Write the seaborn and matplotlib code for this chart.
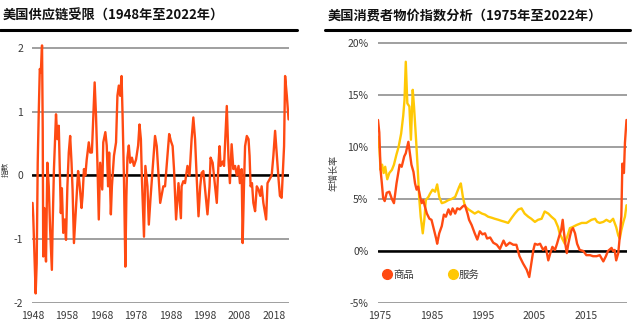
import matplotlib
matplotlib.use('Agg')
import matplotlib.pyplot as plt
import seaborn as sns
import pandas as pd
from matplotlib.lines import Line2D

# ---------------- data ----------------
supply_years = [1948.0, 1948.2, 1948.9, 1949.2, 1949.5, 1949.8, 1950.1, 1950.4, 1950.75, 1950.95,
                1951.1, 1951.4, 1951.6, 1951.9, 1952.3, 1952.7, 1953.1, 1953.6, 1953.8, 1954.2,
                1954.8, 1955.2, 1955.6, 1955.9, 1956.2, 1956.5, 1956.9, 1957.3, 1957.7, 1958.1,
                1958.5, 1958.9, 1959.3, 1959.6, 1960.0, 1960.4, 1960.8, 1961.2, 1961.6, 1962.2,
                1962.5, 1962.9, 1963.3, 1963.7, 1964.3, 1964.7, 1965.2, 1965.6, 1966.0, 1966.4,
                1966.8, 1967.2, 1967.6, 1968.2, 1968.5, 1969.1, 1969.5, 1969.9, 1970.2, 1970.7,
                1971.0, 1971.6, 1972.2, 1972.6, 1973.0, 1973.4, 1973.8, 1974.1, 1974.5, 1974.9,
                1975.2, 1975.5, 1975.9, 1976.3, 1976.8, 1977.4, 1978.0, 1978.6, 1979.0, 1979.4,
                1979.7, 1980.3, 1980.7, 1981.3, 1981.7, 1982.2, 1983.5, 1984.0, 1985.0, 1985.9,
                1986.4, 1987.6, 1988.1, 1988.6, 1989.0, 1989.6, 1990.3, 1991.0, 1991.2, 1991.7,
                1992.2, 1992.9, 1993.5, 1994.1, 1994.6, 1995.1, 1995.6, 1996.1, 1996.6, 1997.0,
                1997.5, 1998.0, 1998.7, 1999.3, 1999.6, 2000.2, 2000.9, 2001.4, 2001.9, 2002.2,
                2002.5, 2003.1, 2003.5, 2004.3, 2004.8, 2005.2, 2005.7, 2006.2, 2006.7, 2007.2,
                2007.7, 2008.1, 2008.6, 2008.9, 2009.3, 2009.6, 2010.1, 2010.6, 2010.9, 2011.2,
                2011.6, 2012.0, 2012.5, 2013.0, 2013.5, 2014.0, 2014.4, 2014.9, 2015.7, 2016.1,
                2016.7, 2017.3, 2017.8, 2018.3, 2018.8, 2019.3, 2019.7, 2020.2, 2020.5, 2020.9,
                2021.2, 2021.7, 2022.2]
supply_index = [-0.43, -0.64, -1.85, -1.38, 0.20, 0.99, 1.67, 1.62, 2.04, 0.73,
                -1.27, -0.51, -0.96, -1.35, 0.20, -0.17, -0.85, -1.48, -0.85, 0.10,
                0.96, 0.57, 0.78, 0.10, -0.59, -0.20, -0.90, -0.69, -1.01, -0.17,
                0.36, 0.62, 0.20, -0.22, -1.06, -0.69, -0.32, 0.07, -0.12, -0.51,
                -0.32, 0.10, 0.00, 0.25, 0.52, 0.36, 0.36, 0.93, 1.46, 0.93,
                0.20, -0.69, 0.20, -0.22, 0.52, 0.68, 0.47, -0.17, 0.36, -0.61,
                -0.17, 0.31, 0.52, 1.25, 1.41, 1.25, 1.56, 0.93, -0.06, -1.43,
                -0.32, 0.28, 0.47, 0.20, 0.28, 0.15, 0.25, 0.47, 0.80, 0.57,
                -0.06, -0.96, 0.15, -0.17, -0.77, -0.35, 0.62, 0.46, -0.43, -0.17,
                -0.17, 0.65, 0.54, 0.46, 0.10, -0.69, -0.12, -0.67, -0.17, -0.09,
                -0.12, 0.15, 0.00, 0.57, 0.91, 0.57, -0.06, -0.64, -0.17, 0.04,
                0.07, -0.22, -0.61, -0.17, 0.28, 0.20, -0.17, -0.43, 0.20, 0.46,
                0.15, 0.22, 0.15, 1.09, 0.25, -0.12, 0.49, 0.10, 0.15, 0.00,
                0.15, -0.12, 0.10, -1.06, -0.12, 0.46, 0.62, 0.57, 0.31, -0.17,
                -0.12, -0.43, -0.56, -0.17, -0.22, -0.32, -0.17, -0.43, -0.69, -0.12,
                -0.06, 0.00, 0.31, 0.70, 0.31, -0.06, -0.32, -0.35, 0.00, 0.46,
                1.56, 1.25, 0.88]

goods_years = [1974.6, 1974.85, 1975.1, 1975.35, 1975.6, 1975.9, 1976.3, 1976.8, 1977.3, 1977.7,
               1978.2, 1978.8, 1979.2, 1979.7, 1980.0, 1980.5, 1980.8, 1981.1, 1981.5, 1981.8,
               1982.1, 1982.4, 1982.8, 1983.1, 1983.4, 1983.7, 1984.1, 1984.6, 1985.0, 1985.5,
               1985.9, 1986.1, 1986.5, 1987.0, 1987.4, 1987.8, 1988.3, 1988.7, 1989.1, 1989.6,
               1990.0, 1990.5, 1991.1, 1991.5, 1992.0, 1992.3, 1992.8, 1993.4, 1993.9, 1994.4,
               1994.9, 1995.4, 1995.8, 1996.4, 1997.0, 1997.7, 1998.3, 1999.0, 1999.5, 2000.2,
               2000.9, 2001.5, 2002.1, 2002.8, 2003.5, 2004.0, 2004.4, 2004.8, 2005.1, 2005.6,
               2006.1, 2006.7, 2007.2, 2007.7, 2008.1, 2008.5, 2009.0, 2009.4, 2009.8, 2010.2,
               2010.5, 2010.7, 2011.0, 2011.3, 2011.6, 2011.9, 2012.2, 2012.5, 2012.9, 2013.3,
               2013.8, 2014.5, 2015.1, 2015.8, 2016.4, 2017.1, 2017.7, 2018.4, 2018.9, 2019.3,
               2020.0, 2020.3, 2020.6, 2020.9, 2021.3, 2021.6, 2021.9, 2022.1, 2022.4, 2022.6,
               2022.9]
goods_inflation = [12.6, 11.4, 7.8, 6.5, 5.1, 4.8, 5.6, 5.7, 5.0, 4.6,
                   6.5, 8.3, 8.1, 9.1, 9.4, 10.5, 9.4, 8.3, 7.6, 6.5,
                   5.9, 6.2, 5.2, 4.6, 4.9, 4.3, 3.6, 3.1, 3.0, 2.0,
                   1.2, 0.7, 1.7, 2.4, 3.5, 3.3, 4.0, 3.5, 4.1, 3.6,
                   4.1, 4.0, 4.3, 4.4, 3.6, 3.0, 2.5, 1.7, 1.1, 1.9,
                   1.6, 1.7, 1.2, 1.3, 0.8, 0.6, 0.2, 1.0, 0.5, 0.8,
                   0.6, 0.6, -0.5, -1.2, -1.8, -2.5, -1.2, 0.1, 0.7, 0.6,
                   0.7, 0.1, 0.4, -0.9, -0.2, 0.4, 0.1, 0.7, 1.4, 2.0,
                   3.0, 2.0, 0.7, -0.2, 0.7, 1.4, 2.0, 2.2, 1.7, 0.7,
                   0.1, 0.0, -0.4, -0.4, -0.5, -0.5, -0.4, -1.0, -0.5, 0.0,
                   0.3, 0.0, 0.1, -0.9, -0.2, 1.4, 3.3, 8.4, 7.5, 10.4,
                   12.6]

services_years = [1974.6, 1974.85, 1975.1, 1975.4, 1975.7, 1976.0, 1976.4, 1976.8, 1977.3, 1977.7,
                  1978.2, 1978.6, 1979.1, 1979.5, 1979.75, 1980.0, 1980.3, 1980.7, 1981.0, 1981.35,
                  1981.6, 1982.0, 1982.3, 1982.6, 1982.9, 1983.3, 1983.6, 1983.9, 1984.4, 1984.7,
                  1985.2, 1985.7, 1986.1, 1986.5, 1987.0, 1987.6, 1988.3, 1988.9, 1989.6, 1990.0,
                  1990.4, 1990.7, 1991.1, 1991.5, 1992.2, 1992.8, 1993.4, 1994.1, 1994.8, 1995.4,
                  1996.0, 1996.7, 1997.3, 1998.0, 1998.6, 1999.3, 1999.9, 2000.6, 2001.2, 2001.9,
                  2002.5, 2003.1, 2003.8, 2004.4, 2005.1, 2005.7, 2006.4, 2007.0, 2007.7, 2008.3,
                  2009.0, 2009.6, 2009.9, 2010.5, 2010.9, 2011.4, 2011.9, 2012.4, 2013.2, 2014.2,
                  2015.1, 2016.1, 2016.8, 2017.2, 2017.7, 2018.4, 2019.0, 2019.7, 2020.3, 2020.9,
                  2021.3, 2021.6, 2021.9, 2022.3, 2022.6, 2022.9]
services_inflation = [11.0, 10.0, 7.8, 8.3, 7.5, 8.1, 6.9, 7.5, 7.8, 8.3,
                      9.3, 10.0, 11.3, 13.0, 14.5, 18.2, 14.2, 13.9, 10.7, 15.5,
                      13.9, 10.7, 8.1, 5.2, 3.3, 1.7, 3.0, 4.9, 5.2, 5.5,
                      5.9, 5.7, 6.4, 5.2, 4.6, 4.7, 4.9, 5.0, 5.2, 5.7,
                      6.2, 6.5, 5.2, 4.3, 4.0, 3.8, 3.6, 3.8, 3.6, 3.5,
                      3.3, 3.2, 3.1, 3.0, 2.9, 2.8, 2.7, 3.2, 3.6, 4.0,
                      4.1, 3.6, 3.3, 3.1, 2.8, 3.0, 3.1, 3.8, 3.6, 3.3,
                      3.0, 2.3, 1.7, 1.1, 0.7, 1.4, 2.2, 2.3, 2.5, 2.7,
                      2.7, 3.0, 3.1, 2.8, 2.7, 2.8, 3.0, 2.8, 3.1, 2.3,
                      1.5, 1.2, 2.0, 2.8, 3.3, 4.4]

left_xticks = [1948, 1958, 1968, 1978, 1988, 1998, 2008, 2018]
left_yticks = [-2, -1, 0, 1, 2]
right_xticks = [1975, 1985, 1995, 2005, 2015]
right_yticks = [-5, 0, 5, 10, 15, 20]
right_ytick_labels = ['-5%', '0%', '5%', '10%', '15%', '20%']

title_left = '美国供应链受限（1948年至2022年）'
title_right = '美国消费者物价指数分析（1975年至2022年）'
series_names = ['商品', '服务']

# ---------------- style ----------------
sns.set_theme(style='white')
plt.rcParams['font.family'] = ['Noto Sans CJK SC', 'DejaVu Sans']
plt.rcParams['axes.unicode_minus'] = False

RED = '#FF4A12'
YEL = '#FFC805'
GRID = '#8f8f8f'
TXT = '#3a3a3a'

W, H = 640, 325
fig = plt.figure(figsize=(W / 100, H / 100), dpi=100)

ax1 = fig.add_axes([32.2 / W, 1 - 303 / H, 256.7 / W, 261.4 / H])
ax2 = fig.add_axes([378 / W, 1 - 303 / H, 249 / W, 263.1 / H])

df_supply = pd.DataFrame({'year': supply_years, 'index': supply_index})
sns.lineplot(data=df_supply, x='year', y='index', ax=ax1, color=RED, lw=1.7, zorder=3)

df_cpi = pd.concat([
    pd.DataFrame({'year': goods_years, 'rate': goods_inflation, 'kind': series_names[0]}),
    pd.DataFrame({'year': services_years, 'rate': services_inflation, 'kind': series_names[1]}),
])
sns.lineplot(data=df_cpi, x='year', y='rate', hue='kind', ax=ax2,
             palette={series_names[0]: RED, series_names[1]: YEL},
             hue_order=[series_names[1], series_names[0]], lw=1.7, zorder=3, legend=False)

for ax in (ax1, ax2):
    for s in ax.spines.values():
        s.set_visible(False)
    ax.grid(axis='y', color=GRID, lw=1.2, zorder=1)
    ax.grid(axis='x', visible=False)
    ax.axhline(0, color='black', lw=1.8, zorder=2)
    ax.tick_params(length=0, labelsize=7.5, labelcolor=TXT)
    ax.set_xlabel('')

ax1.set_xlim(1947.9, 2022.3)
ax1.set_ylim(-2, 2.1)
ax1.set_xticks(left_xticks)
ax1.set_yticks(left_yticks)
ax1.set_yticklabels([str(v) for v in left_yticks])
ax1.tick_params(axis='y', pad=6.5)
ax1.tick_params(axis='x', pad=5.5)
ax1.set_ylabel('指数', fontsize=5.5, color=TXT)
ax1.yaxis.set_label_coords(-0.086, 0.51)

ax2.set_xlim(1974.6, 2023.0)
ax2.set_ylim(-5, 20.3)
ax2.set_xticks(right_xticks)
ax2.set_yticks(right_yticks)
ax2.set_yticklabels(right_ytick_labels)
ax2.tick_params(axis='y', pad=7)
ax2.tick_params(axis='x', pad=5.5)
ax2.set_ylabel('年增长率', fontsize=6.5, color=TXT)
ax2.yaxis.set_label_coords(-0.157, 0.494)

# titles and rules
fig.text(3 / W, 1 - 16 / H, title_left, fontsize=9.5, weight='bold', va='center', ha='left', color='#111111')
fig.text(328 / W, 1 - 16 / H, title_right, fontsize=9.5, weight='bold', va='center', ha='left', color='#111111')
fig.add_artist(Line2D([0, 297 / W], [1 - 30 / H] * 2, transform=fig.transFigure, color='black', lw=2.2))
fig.add_artist(Line2D([325 / W, 630 / W], [1 - 30 / H] * 2, transform=fig.transFigure, color='black', lw=2.2))

# legend
handles = [Line2D([], [], marker='o', ls='none', markersize=7, markerfacecolor=RED, markeredgecolor=RED, label=series_names[0]),
           Line2D([], [], marker='o', ls='none', markersize=7, markerfacecolor=YEL, markeredgecolor=YEL, label=series_names[1])]
leg = ax2.legend(handles=handles, loc='center left', bbox_to_anchor=(383 / W, 1 - 275 / H),
                 bbox_transform=fig.transFigure, ncol=2, frameon=False, handletextpad=0.2,
                 columnspacing=3.3, fontsize=7.5, handlelength=0.8, borderpad=0, borderaxespad=0)
for t in leg.get_texts():
    t.set_color(TXT)

fig.savefig('out.png', dpi=100, facecolor='white')
